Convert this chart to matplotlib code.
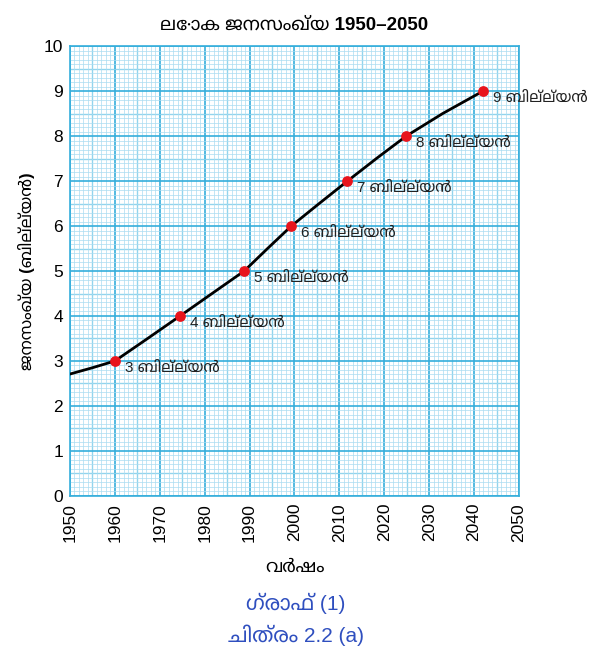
import numpy as np
import matplotlib
matplotlib.use('Agg')
import matplotlib.pyplot as plt
from matplotlib import font_manager
from matplotlib.ft2font import FT2Font
from matplotlib.ticker import MultipleLocator

# Data

YEARS = [1960, 1974.5, 1988.8, 1999.3, 2011.8, 2024.9, 2042.0]
POP = [3, 4, 5, 6, 7, 8, 9]
LINE_YEARS = [1950, 1955, 1960, 1967, 1974.5, 1981.5, 1988.8, 1994, 1999.3,
              2005.5, 2011.8, 2018.5, 2024.9, 2033, 2042.0]
LINE_POP = [2.71, 2.85, 3.0, 3.48, 4.0, 4.49, 5.0, 5.5, 6.0,
            6.5, 7.0, 7.52, 8.0, 8.5, 9.0]
LABELS = ['{} ബില്ല്യൻ'.format(p) for p in POP]

TITLE = 'ലോക ജനസംഖ്യ 1950–2050'
XLABEL = 'വർഷം'
YLABEL = 'ജനസംഖ്യ (ബില്ല്യൻ)'
CAPTION1 = 'ഗ്രാഫ് (1)'
CAPTION2 = 'ചിത്രം 2.2 (a)'


def rank(name):
    # prefer a proper Malayalam sans face, avoid mono faces
    score = 0
    if 'Malayalam' in name:
        score -= 10
    if 'Sans' in name:
        score -= 3
    if 'Mono' in name:
        score += 5
    return score


def find_font():
    """Pick an installed font that has Malayalam glyphs, if any."""
    found = []
    for path in font_manager.findSystemFonts():
        try:
            if 0x0D2C in FT2Font(path).get_charmap():
                found.append(font_manager.FontProperties(fname=path).get_name())
        except Exception:
            pass
    if not found:
        return None
    found.sort(key=rank)
    return found[0]


ML = find_font()
fams = ['Liberation Sans', 'DejaVu Sans']
if ML:
    fams = ['Liberation Sans', ML, 'DejaVu Sans']
plt.rcParams['font.family'] = fams

fig = plt.figure(figsize=(5.9, 6.52), dpi=100)
ax = fig.add_axes([0.1186, 0.2393, 0.7611, 0.6901])

# graph paper grid
ax.xaxis.set_major_locator(MultipleLocator(10))
ax.xaxis.set_minor_locator(MultipleLocator(1))
ax.yaxis.set_major_locator(MultipleLocator(1))
ax.yaxis.set_minor_locator(MultipleLocator(0.1))
for v in np.arange(1955, 2050, 10):
    ax.axvline(v, color='#5cc2e4', lw=0.9, zorder=0.5)
for v in np.arange(0.5, 10, 1):
    ax.axhline(v, color='#5cc2e4', lw=0.9, zorder=0.5)
ax.grid(which='major', color='#35aedb', lw=1.2, zorder=1)
ax.grid(which='minor', color='#aadcf1', lw=0.5, zorder=0)
ax.set_axisbelow(True)

ax.plot(LINE_YEARS, LINE_POP, color='black', lw=2, zorder=3)
ax.scatter(YEARS, POP, s=45, color='#e8141c', zorder=4)
for x, y, lab in zip(YEARS, POP, LABELS):
    ax.annotate(lab, (x, y), xytext=(7, -5), textcoords='offset points',
                fontsize=11, va='center', ha='left', color='#222222', zorder=5)

ax.set_xlim(1950, 2050)
ax.set_ylim(0, 10)
ax.set_xticks(np.arange(1950, 2051, 10))
ax.set_yticks(np.arange(0, 11, 1))
ax.tick_params(which='both', length=0, labelsize=12.5, pad=5)
ax.tick_params(axis='x', labelrotation=90)
for s in ax.spines.values():
    s.set_color('#35aedb')
    s.set_linewidth(1.2)

ax.set_title(TITLE, fontsize=13.5, fontweight='bold', pad=12)
ax.set_xlabel(XLABEL, fontsize=13, fontweight='bold', labelpad=12)
ax.set_ylabel(YLABEL, fontsize=12, fontweight='bold', labelpad=6)

fig.text(0.502, 0.074, CAPTION1, fontsize=15, color='#2f4fbf', ha='center', va='center')
fig.text(0.502, 0.025, CAPTION2, fontsize=15, color='#2f4fbf', ha='center', va='center')

plt.savefig('out.png', dpi=100)
